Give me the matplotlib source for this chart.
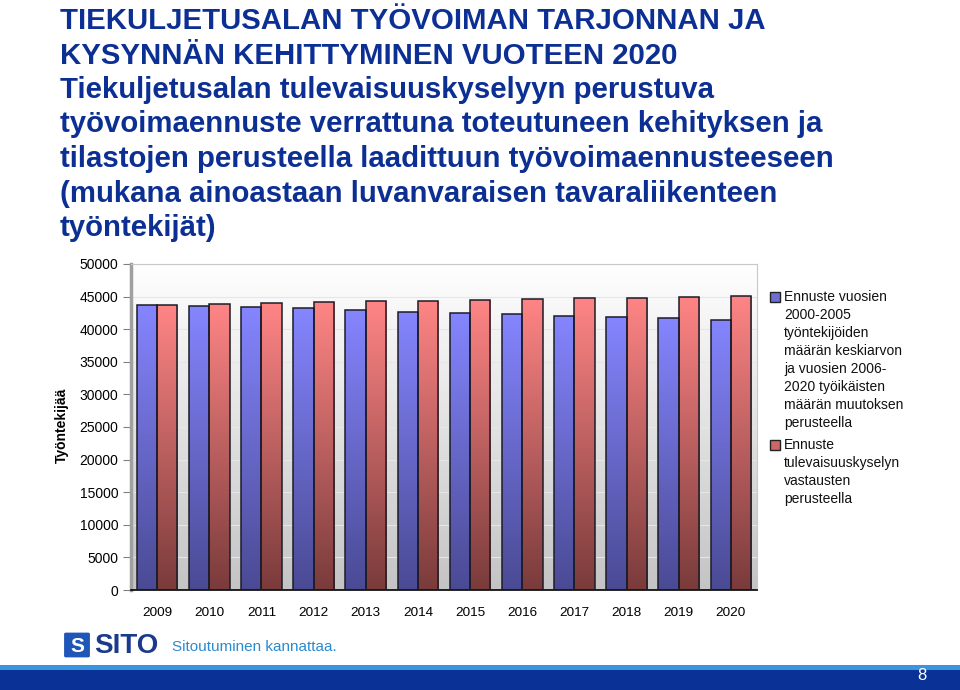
import matplotlib
matplotlib.use("Agg")
import matplotlib.pyplot as plt
from matplotlib.patches import Rectangle, FancyBboxPatch
from matplotlib.colors import LinearSegmentedColormap
import numpy as np

plt.rcParams['font.family'] = ['Liberation Sans', 'DejaVu Sans']

# data
years = ["2009", "2010", "2011", "2012", "2013", "2014",
         "2015", "2016", "2017", "2018", "2019", "2020"]
trend_forecast = [43700, 43550, 43400, 43250, 43000, 42700,
                  42500, 42300, 42050, 41900, 41750, 41450]
survey_forecast = [43700, 43850, 44000, 44150, 44250, 44350,
                   44500, 44650, 44750, 44850, 44950, 45100]

title_lines = [
    "TIEKULJETUSALAN TYÖVOIMAN TARJONNAN JA",
    "KYSYNNÄN KEHITTYMINEN VUOTEEN 2020",
    "Tiekuljetusalan tulevaisuuskyselyyn perustuva",
    "työvoimaennuste verrattuna toteutuneen kehityksen ja",
    "tilastojen perusteella laadittuun työvoimaennusteeseen",
    "(mukana ainoastaan luvanvaraisen tavaraliikenteen",
    "työntekijät)",
]
legend_labels = [
    "Ennuste vuosien\n2000-2005\ntyöntekijöiden\nmäärän keskiarvon\nja vuosien 2006-\n2020 työikäisten\nmäärän muutoksen\nperusteella",
    "Ennuste\ntulevaisuuskyselyn\nvastausten\nperusteella",
]

TITLE_COL = "#0c2f94"
blue_cmap = LinearSegmentedColormap.from_list("b", ["#4a4a94", "#8585ff"])
red_cmap = LinearSegmentedColormap.from_list("r", ["#7a3b3b", "#ff8585"])

W, H = 960, 690
fig = plt.figure(figsize=(9.6, 6.9), dpi=100)

# title block
for i, line in enumerate(title_lines):
    fig.text(60 / W, 1 - (29 + i * 34.5) / H, line, fontsize=21.2,
             fontweight='bold', color=TITLE_COL, va='baseline', ha='left')

ax = fig.add_axes([131 / W, 100 / H, 626 / W, 326 / H])
x = np.arange(len(years))
bw = 0.39

# background gradient (white at top -> light grey at bottom)
grad = np.linspace(0, 1, 256).reshape(-1, 1)
bg_cmap = LinearSegmentedColormap.from_list("bg", ["#c4c4c4", "#ffffff"])
ax.imshow(grad, cmap=bg_cmap, aspect='auto', origin='lower',
          extent=[-0.5, 11.5, 0, 50000], zorder=0)

bars_b = ax.bar(x - bw / 2, trend_forecast, bw, color="#7f7fe6",
                edgecolor="#1c1c28", linewidth=1.1, zorder=2)
bars_r = ax.bar(x + bw / 2, survey_forecast, bw, color="#e67f7f",
                edgecolor="#1c1c28", linewidth=1.1, zorder=2)

# vertical gradient fill clipped to each bar
for bars, cmap in ((bars_b, blue_cmap), (bars_r, red_cmap)):
    for b in bars:
        bx, by = b.get_x(), b.get_y()
        im = ax.imshow(grad, cmap=cmap, aspect='auto', origin='lower',
                       extent=[bx, bx + b.get_width(), by, by + b.get_height()],
                       zorder=2.5)
        im.set_clip_path(b)
        b.set_facecolor('none')
        b.set_zorder(3)

ax.set_xlim(-0.5, 11.5)
ax.set_ylim(0, 50000)
ax.set_yticks(np.arange(0, 50001, 5000))
ax.set_yticklabels([str(v) for v in range(0, 50001, 5000)], fontsize=10)
ax.set_xticks(x)
ax.set_xticklabels(years, fontsize=9.7)
ax.tick_params(axis='x', length=0, pad=12)
ax.tick_params(axis='y', length=6, width=0.8, color="#808080", pad=3)
ax.yaxis.grid(True, color="#e6e6e6", linewidth=0.8, zorder=1)
ax.set_axisbelow(True)

ax.spines['left'].set_color("#a0a0a0")
ax.spines['left'].set_linewidth(2.5)
ax.spines['top'].set_color("#c8c8c8")
ax.spines['right'].set_color("#c8c8c8")
ax.spines['bottom'].set_color("#000000")
ax.spines['bottom'].set_linewidth(1.2)

fig.text(62 / W, 1 - 425 / H, "Työntekijää", rotation=90, fontsize=10,
         fontweight='bold', ha='center', va='center')

# legend, handle squares at first line of each label
leg_tops = [290, 438]
leg_cols = [blue_cmap(0.6), red_cmap(0.6)]
for top, lab, col in zip(leg_tops, legend_labels, leg_cols):
    fig.patches.append(Rectangle((770 / W, 1 - (top + 12) / H), 10 / W, 10 / H,
                                 transform=fig.transFigure, facecolor=col,
                                 edgecolor="#222222", linewidth=1))
    fig.text(784 / W, 1 - top / H, lab, fontsize=10, va='top', ha='left',
             linespacing=1.36, color="#111111")

# footer logo
fig.patches.append(FancyBboxPatch((66 / W, 1 - 656 / H), 22 / W, 22 / H,
                                  boxstyle="round,pad=0.002",
                                  transform=fig.transFigure,
                                  facecolor="#1f56b8", edgecolor="none"))
fig.text(77 / W, 1 - 646 / H, "S", fontsize=15, fontweight='bold',
         color="white", ha='center', va='center')
fig.text(94 / W, 1 - 646 / H, "SITO", fontsize=20, fontweight='bold',
         color="#1a3a8c", ha='left', va='center')
fig.text(172 / W, 1 - 647 / H, "Sitoutuminen kannattaa.", fontsize=11,
         color="#2a8ad0", ha='left', va='center')

# bottom band
fig.patches.append(Rectangle((0, 1 - 670 / H), 1, 5 / H, transform=fig.transFigure,
                             facecolor="#3896e0", edgecolor="none"))
fig.patches.append(Rectangle((0, 0), 1, 20 / H, transform=fig.transFigure,
                             facecolor="#0a3296", edgecolor="none"))
fig.text(922 / W, 1 - 675 / H, "8", fontsize=12, color="white",
         ha='center', va='center')

fig.savefig("out.png", dpi=100)
